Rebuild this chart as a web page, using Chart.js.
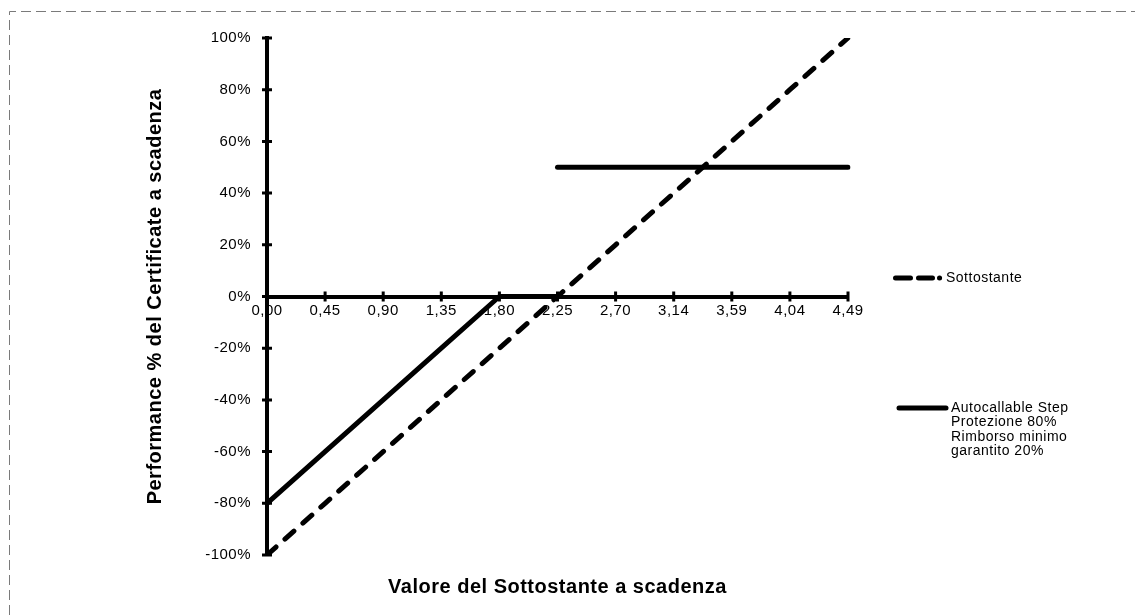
<!DOCTYPE html>
<html>
<head>
<meta charset="utf-8">
<script src="https://cdn.jsdelivr.net/npm/chart.js@4.4.1/dist/chart.umd.min.js"></script>
<style>
  html, body { margin: 0; padding: 0; background: #fff; }
</style>
</head>
<body>
<canvas id="chart" width="1135" height="615"></canvas>
<script>
// dati
const xLabels = ["0,00", "0,45", "0,90", "1,35", "1,80", "2,25", "2,70", "3,14", "3,59", "4,04", "4,49"];
const sottostante = [-100, -80, -60, -40, -20, 0, 20, 40, 60, 80, 100];
const autocallable = [-80, -60, -40, -20, 0, 0, null, null, null, null, null];
const autocallableStep = [null, null, null, null, null, 50, 50, 50, 50, 50, 50];
const legendSottostante = ["Sottostante"];
const legendAutocallable = ["Autocallable Step", "Protezione 80%", "Rimborso minimo", "garantito 20%"];

const FONT = "'Liberation Sans', Arial, sans-serif";

// ============================================================
// PLUGIN
// ============================================================
const pageBorder = {
  id: "pageBorder",
  beforeDraw(chart) {
    const c = chart.ctx;
    c.save();
    c.strokeStyle = "#7a7a7a";
    c.lineWidth = 1;
    c.setLineDash([10, 5]);
    c.beginPath();
    c.moveTo(9.5, 615);
    c.lineTo(9.5, 11.5);
    c.lineTo(1135, 11.5);
    c.stroke();
    c.restore();
    c.letterSpacing = "0.5px";
  }
};

const crossTicks = {
  id: "crossTicks",
  afterDatasetsDraw(chart) {
    const c = chart.ctx;
    const xs = chart.scales.x, ys = chart.scales.y;
    const y0 = ys.getPixelForValue(0);
    const x0 = chart.chartArea.left;
    c.save();
    c.strokeStyle = "#000";
    c.lineWidth = 3;
    c.beginPath();
    xs.ticks.forEach((t, i) => {
      const px = xs.getPixelForTick(i);
      c.moveTo(px, y0 - 5);
      c.lineTo(px, y0 + 5);
    });
    ys.ticks.forEach((t, i) => {
      const py = ys.getPixelForTick(i);
      c.moveTo(x0 - 5, py);
      c.lineTo(x0 + 5, py);
    });
    c.stroke();
    c.restore();
  }
};

const sideLegend = {
  id: "sideLegend",
  afterDraw(chart) {
    const c = chart.ctx;
    c.save();
    c.strokeStyle = "#000";
    c.fillStyle = "#000";
    c.lineWidth = 5;
    c.lineCap = "round";
    c.font = "14px " + FONT;
    c.textBaseline = "middle";
    c.textAlign = "left";

    // Sottostante: tratto, tratto, punto
    const y1 = 278;
    c.setLineDash([15, 8, 14, 7, 0.1, 60]);
    c.beginPath();
    c.moveTo(895.5, y1);
    c.lineTo(942, y1);
    c.stroke();
    c.setLineDash([]);
    legendSottostante.forEach((t, i) => c.fillText(t, 946, y1 + i * 14.5));

    // Autocallable
    const y2 = 408;
    c.beginPath();
    c.moveTo(899, y2);
    c.lineTo(946, y2);
    c.stroke();
    legendAutocallable.forEach((t, i) => c.fillText(t, 951, y2 + i * 14.5));
    c.restore();
  }
};

// ============================================================
// GRAFICO
// ============================================================
const lineBase = {
  borderColor: "#000",
  borderWidth: 5,
  borderCapStyle: "round",
  borderJoinStyle: "round",
  pointRadius: 0,
  tension: 0,
  spanGaps: false,
};

new Chart(document.getElementById("chart"), {
  type: "line",
  data: {
    labels: xLabels,
    datasets: [
      { ...lineBase, label: legendSottostante.join(" "), data: sottostante, borderDash: [12, 12] },
      { ...lineBase, label: legendAutocallable.join(" "), data: autocallable },
      { ...lineBase, label: "", data: autocallableStep },
    ]
  },
  options: {
    responsive: false,
    animation: false,
    events: [],
    layout: { padding: { left: 139, right: 287, top: 38, bottom: 0 } },
    plugins: {
      legend: { display: false },
      tooltip: { enabled: false },
      title: {
        display: true,
        text: "Valore del Sottostante a scadenza",
        position: "bottom",
        fullSize: false,
        color: "#000",
        font: { family: FONT, size: 20, weight: "bold" },
        padding: { top: 20, bottom: 16 },
      }
    },
    scales: {
      x: {
        type: "category",
        position: { y: 0 },
        offset: false,
        grid: { display: false, drawTicks: false },
        border: { display: true, color: "#000", width: 4 },
        ticks: { autoSkip: false, maxRotation: 0, color: "#000", padding: 5, font: { family: FONT, size: 15 } },
        afterFit(s) { s.height = 0; s.paddingLeft = 0; s.paddingRight = 0; },
      },
      y: {
        min: -100,
        max: 100,
        grid: { display: false, drawTicks: false },
        border: { display: true, color: "#000", width: 4 },
        ticks: { stepSize: 20, callback: v => v + "%", padding: 16, color: "#000", font: { family: FONT, size: 15 } },
        title: {
          display: true,
          text: "Performance % del Certificate a scadenza",
          color: "#000",
          font: { family: FONT, size: 20, weight: "bold" },
          padding: { top: 4, bottom: 0 },
        },
        afterFit(s) { s.width = 128; s.paddingTop = 0; s.paddingBottom = 0; },
      }
    }
  },
  plugins: [pageBorder, crossTicks, sideLegend]
});
</script>
</body>
</html>
